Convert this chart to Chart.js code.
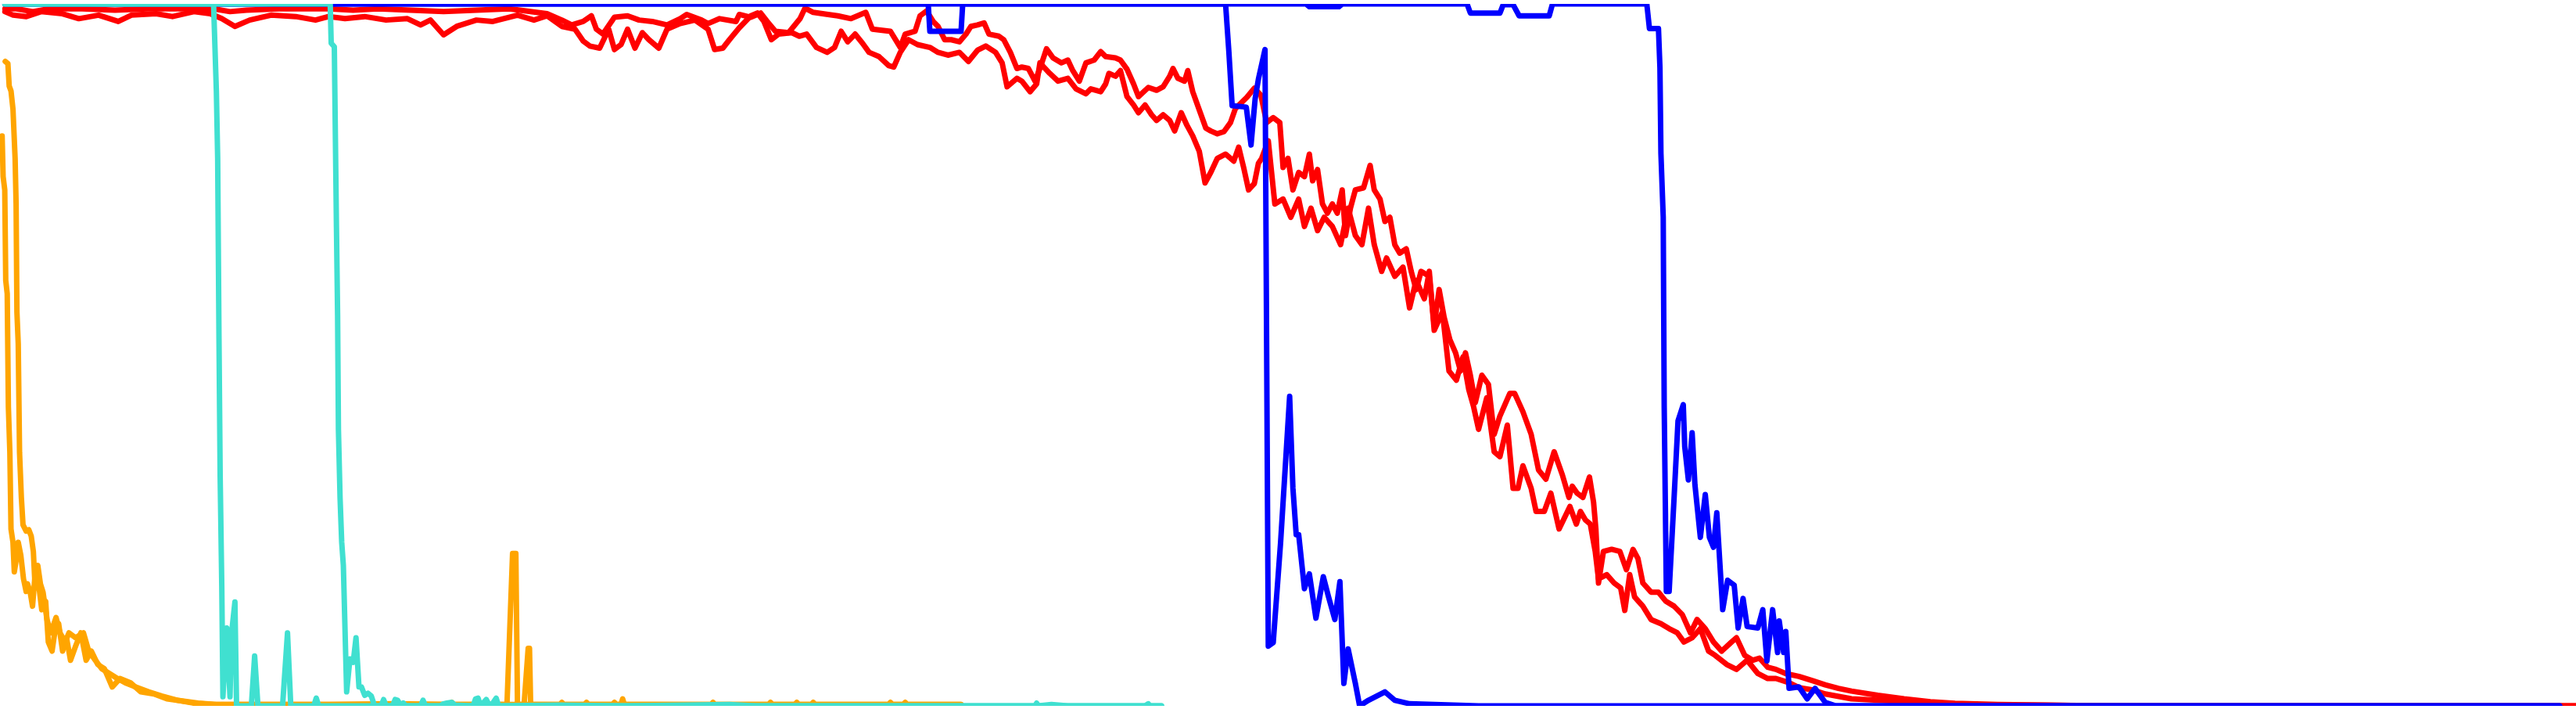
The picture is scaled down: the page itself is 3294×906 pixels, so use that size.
<!DOCTYPE html>
<html>
<head>
<meta charset="utf-8">
<script src="https://cdn.jsdelivr.net/npm/chart.js@4.4.1/dist/chart.umd.min.js"></script>
<style>
  html, body { margin: 0; padding: 0; background: #fff; }
  #chart { display: block; }
</style>
</head>
<body>
<canvas id="chart" width="3294" height="906"></canvas>
<script>
// x = training step, y = score (%)
const turqA = [[3,100],[130,100],[131.7,87.6],[132.5,78.0],[133.3,52.3],[134,32.9],[135,17.0],[135.7,1.3],[138,11.1],[140,1.3],[141,10.4],[143,14.8],[144,0],[153,0],[155,7.1],[157,0],[172,0],[175,10.4],[177,0],[191,0],[192.5,1.1],[194,0],[707,0]];

const turqB = [[3,100],[201,100],[201.6,94.4],[203.5,93.9],[204.8,68.2],[205.5,55.6],[206,39.4],[207,29.6],[208,23.3],[209,20.0],[211,2.0],[213,6.7],[215,6.2],[216.7,9.7],[218.5,2.7],[220,2.7],[222,1.5],[224,1.8],[226,1.4],[228,0],[232,0],[233.5,0.9],[235,0],[239,0],[240.5,0.9],[242,0.8],[244,0],[245.5,0.4],[247,0],[256,0],[257.5,0.8],[259,0],[268,0],[270,0.3],[272,0.4],[275,0.5],[277,0.1],[288,0],[289.5,1.0],[291,1.1],[292.5,0],[296,0.9],[298,0],[300,0.4],[302,1.1],[303.5,0],[340,0.1],[380,0],[444,0.2],[460,0],[630,0],[631,0.4],[632,0],[640,0.2],[650,0],[697,0],[699,0.3],[700,0],[707,0]];

const blueA = [[3,100],[795,100],[797,99.6],[815,99.6],[817,100],[893,100],[895,98.7],[913,98.7],[915,99.9],[921,99.9],[924.7,98.3],[943,98.3],[945,100],[1002.4,100],[1004,96.5],[1009.5,96.5],[1010.4,90.9],[1011,78.7],[1012.4,69.6],[1013,42.5],[1014.3,16.3],[1016,16.3],[1019,29.6],[1021.4,40.6],[1024.6,42.9],[1025.5,36.9],[1027.7,32.2],[1030,38.9],[1031.7,31.5],[1035,24.0],[1038,30.1],[1040.5,24.0],[1043,22.6],[1045,27.5],[1048.6,13.7],[1051.6,17.9],[1055.6,17.2],[1058,11.1],[1061,15.3],[1063.5,11.3],[1070,11.1],[1073,13.7],[1075.5,6.4],[1079,13.7],[1082,7.6],[1083,12.1],[1085.7,7.6],[1087,10.6],[1089,2.5],[1095,2.7],[1100,1.0],[1104.8,2.5],[1111,0.5],[1117.5,0],[1558,0]];

const blueB = [[3,100],[565,100],[566,96.1],[585,96.1],[586,100],[746,100],[748,93.2],[750,85.5],[758.6,85.3],[761.5,79.9],[764,86.5],[766,89.3],[770,93.5],[772,8.5],[775,9.0],[779.5,23.3],[785,44.1],[787,31.0],[789,24.4],[790.5,24.4],[794,16.7],[797,18.8],[801,12.5],[805.5,18.4],[808.6,15.6],[812.5,12.3],[815.6,17.7],[818,3.2],[820.6,8.1],[825,3.2],[827.6,0],[833,0.8],[843,2.0],[849,0.8],[858,0.3],[900,0],[1558,0]];

const orangeA = [[1.3,81.2],[1.9,75.4],[2.9,73.5],[3.5,60.6],[4.4,58.7],[5.1,42.6],[6,36.1],[6.7,25.2],[7.9,23.3],[8.7,19.1],[9.8,20.7],[11.1,23.3],[12.7,21.4],[14.3,18.1],[15.9,16.3],[16.7,17.4],[18.3,16.3],[19.8,14.2],[21.4,18.8],[23.8,16.8],[25.4,13.7],[27.8,14.9],[29.4,9.1],[31.7,7.8],[33.3,10.4],[35.7,11.7],[38.1,7.8],[40.5,9.7],[42.9,6.5],[46,8.5],[49.2,10.4],[52.4,6.5],[55.6,7.8],[59.5,5.9],[63.5,5.3],[68.3,2.7],[73,3.9],[79.4,3.3],[85.7,2.0],[93.7,1.7],[101.6,1.0],[111,0.7],[120.6,0.4],[131.7,0.2],[160,0.2],[200,0.2],[240,0.3],[274,0.2],[275,0.5],[276,0.2],[308.6,0.2],[312,21.7],[314,21.7],[315,0.2],[319,0.2],[321.5,8.2],[322.3,8.2],[323,0.2],[341,0.2],[342,0.5],[343,0.2],[356,0.2],[357,0.5],[358,0.2],[373,0.2],[374,0.5],[375,0.2],[378,0.2],[379,1.0],[380,0.2],[433,0.2],[434,0.5],[435,0.2],[468,0.2],[469,0.5],[470,0.2],[484,0.2],[485,0.5],[486,0.2],[494,0.2],[495,0.5],[496,0.2],[541,0.2],[542,0.5],[543,0.2],[550,0.2],[551,0.5],[552,0.2],[585,0.2]];

const orangeB = [[3.2,91.8],[4.8,91.5],[5.6,88.3],[6.7,87.6],[7.9,85.0],[9.2,78.0],[9.8,71.5],[10.3,56.1],[11.1,51.6],[11.9,36.1],[13,29.7],[14,25.8],[15.9,24.9],[17.5,25.1],[19,24.2],[20.3,22.0],[21.4,16.8],[23,20.0],[24.6,17.4],[26.2,16.2],[28.6,12.3],[31,10.4],[34.1,12.6],[36.5,10.4],[39.7,9.1],[42,10.4],[46,9.7],[50.8,10.4],[54,7.8],[58,6.5],[61.9,5.3],[66.7,4.6],[71.4,3.9],[76.2,3.3],[82.5,2.7],[90.5,2.0],[98.4,1.4],[108,0.8],[117.5,0.4],[130.2,0.2],[585,0.2]];

const redA = [[3,99.3],[10,99.3],[20,98.9],[30,99.3],[50,99.3],[70,99.1],[90,99.3],[110,99.3],[130,99.3],[140,98.9],[150,99.1],[170,99.3],[190,99.3],[200,99.3],[215,99.1],[230,99.3],[250,99.1],[270,98.9],[290,99.1],[310,99.3],
  [333,98.6],[342,97.7],[348,97.0],[355,97.5],[360,98.3],[363,96.4],[367,95.7],[374,98.1],[382,98.3],[389,97.7],[397,97.5],[406,97.0],[414,97.9],[418,98.5],[427,97.7],[431,97.2],[438,97.9],[448,97.5],[450,98.5],[457,98.1],[463,98.7],[467,97.5],[472,96.1],[480,95.9],[487,97.9],[490,99.4],[495,98.8],[504,98.5],[510,98.3],[518,97.9],[527,98.8],[531,96.4],[542,96.1],
  [548,93.8],[551,95.7],[557,96.1],[560,98.3],[564,99.0],[568,97.5],[571,96.8],[575,94.9],[579,94.9],[584,94.6],[588,95.7],[591,96.8],[595,97.0],[599,97.3],[602,95.7],[608,95.4],[611,94.9],[615,93.1],[619,90.8],[622,91.0],[626,90.8],[630,89.0],[633,90.8],[637,93.6],[641,92.3],[646,91.6],[650,92.0],[653,90.5],[657,89.0],[661,91.6],[666,92.0],[670,93.2],[673,92.5],[679,92.3],[682,92.0],[686,90.7],[690,88.6],[693,86.8],[699,88.1],[704,87.7],[708,88.2],[712,89.7],[714,90.8],[717,89.4],[721,89.0],[723,90.5],[726,87.5],[730,84.9],[734,82.3],[737,81.9],
  [741,81.5],[745,81.8],[749,83.1],[752,85.1],[759,86.7],[763.5,88.0],[767.5,87.0],[771,83.1],[775,83.8],[779,83.1],[781,76.7],[784,78.0],[787,73.5],[790.5,76.0],[794,75.4],[797,78.6],[799,74.8],[802,76.4],[805,71.5],[808,70.2],[811,71.5],[814,70.2],[817,73.5],[819,67.0],[822,70.9],[825,73.5],[830,73.8],[834,77.0],[836.5,73.5],[840,72.2],[843,69.0],[846,69.6],[849,65.7],[852,64.5],[856,65.1],[859,61.9],[862,59.3],[865,61.9],[870,61.2],[873,54.2],[876,59.3],[879,55.4],[882.5,52.2],[886,50.3],[889,47.7],[892,50.3],[895,47.1],[898,43.2],[902,47.1],[906,45.8],[909.5,38.7],[913,41.3],[919,44.5],[922,44.5],[927,41.9],[932,38.7],[936.5,33.6],[941,32.3],[946,36.2],[951,32.9],
  [955,29.7],[957,31.3],[960,30.3],[963.5,29.7],[967.5,32.6],[970,29.0],[971.4,25.2],[973,17.5],[976,22.0],[981,22.3],[986,22.0],[990,19.4],[994,22.3],[997,21.0],[1000,17.5],[1005,16.2],[1009.5,16.2],[1014,14.9],[1019,14.2],[1024,13.0],[1029,10.4],[1033,12.3],[1038,11.0],[1043,9.1],[1048,7.8],[1054,9.1],[1057,9.7],[1062,7.2],[1067,6.5],[1071,6.8],[1076,5.5],[1081,5.2],[1087,4.6],[1095,4.2],[1103,3.6],[1111,3.0],[1119,2.5],[1127,2.1],[1143,1.5],[1159,1.0],[1175,0.6],[1190,0.35],[1216,0.2],[1246,0.1],[1276,0],[1568,0]];

const redB = [[3,98.9],[8,98.4],[16,98.2],[25,98.9],[38,98.6],[48,97.9],[60,98.4],[72,97.5],[80,98.4],[95,98.6],[105,98.2],[118,98.9],[128,98.6],[135,97.9],[143,96.8],[152,97.7],[165,98.4],[180,98.2],[192,97.7],[200,98.2],[210,97.9],[222,98.2],[235,97.7],[248,97.9],[256,97.0],[262,97.7],[270,95.6],[278,96.8],[290,97.7],[300,97.5],[315,98.4],[325,97.7],
  [333,98.3],[342,96.8],[350,96.4],[355,94.7],[359,94.0],[365,93.7],[370.5,96.4],[374,93.5],[378,94.2],[382,96.4],[386.5,93.7],[391,95.9],[395,94.9],[401,93.7],[406,96.4],[414,97.2],[423,97.7],[431,96.4],[435,93.5],[440,93.7],[444,94.9],[450,96.6],[457,98.3],[461,98.7],[465,97.5],[469.5,94.9],[474,95.7],[482,95.9],[486.5,95.4],[491,95.7],[497,93.8],[503.5,93.1],[508,93.8],[512,96.1],[516,94.6],[520.5,95.7],[525,94.4],[529,93.1],[535,92.5],[541,91.2],[544,91.0],
  [548,93.1],[553,94.9],[558.5,94.2],[566,93.8],[571,93.1],[577,92.7],[584,93.1],[589.5,91.8],[595,93.4],[600,94.0],[606,93.1],[610,91.6],[613,88.2],[619,89.4],[622,89.0],[627,87.5],[631,88.6],[633,91.6],[639,90.1],[644,89.0],[650,89.4],[655,87.9],[661,87.2],[664,87.9],[670,87.5],[673,88.6],[675,90.1],[679,89.7],[682,90.5],[686,86.8],[690,85.6],[693,84.5],[697,85.6],[701,84.2],[704,83.4],[708,84.2],[712,83.4],[715,81.9],[719,84.5],[722.5,82.7],[726,81.2],[730,79.0],[733.5,74.5],[737,76.0],
  [741,78.0],[746,78.6],[751,77.6],[754,79.6],[757,76.7],[760,73.5],[763.5,74.4],[766,77.3],[768,78.0],[772,80.5],[776,71.5],[781,72.2],[785.7,69.6],[790.5,72.2],[794,68.3],[798,70.9],[802,67.7],[806,69.6],[811,68.3],[816,65.7],[820.6,70.9],[825,67.0],[829,65.7],[833,70.9],[836.5,65.7],[841,61.9],[844,63.8],[849,61.2],[854,62.5],[858,56.7],[862,60.6],[867,58.0],[870,61.9],[873,53.5],[878,56.1],[882,47.7],[886.5,46.4],[890.5,49.7],[894,45.1],[897,42.6],[900,39.4],[905,43.9],[909.5,36.2],[913,35.5],[917.5,40.0],[921,31.0],[924,31.0],[927,34.2],[932,31.0],[935,27.7],[940,27.7],[944,30.3],[949,25.2],
  [955.6,28.4],[959.5,25.9],[962,27.7],[965,26.5],[968,25.9],[971,22.0],[973,18.1],[978,18.7],[982.5,17.5],[986.5,16.8],[989,13.6],[992,18.7],[995,15.5],[1000,14.2],[1005,12.3],[1011,11.7],[1016,11.0],[1021,10.4],[1025,9.1],[1030,9.7],[1035,11.0],[1040,7.8],[1044,7.2],[1051,5.9],[1057,5.2],[1063.5,6.5],[1070,4.6],[1076,3.9],[1081,3.9],[1089,3.3],[1095,2.6],[1103,2.3],[1111,1.7],[1127,1.0],[1143,0.8],[1159,0.6],[1175,0.4],[1190,0.2],[1230,0.1],[1300,0],[1568,0]];

const series = [
  { name: 'turqA', data: turqA, color: 'turquoise' },
  { name: 'turqB', data: turqB, color: 'turquoise' },
  { name: 'blueA', data: blueA, color: 'blue' },
  { name: 'blueB', data: blueB, color: 'blue' },
  { name: 'orangeA', data: orangeA, color: 'orange' },
  { name: 'orangeB', data: orangeB, color: 'orange' },
  { name: 'redA', data: redA, color: 'red' },
  { name: 'redB', data: redB, color: 'red' }
];

function toPoints(arr){
  return arr.map(p => ({ x: p[0], y: p[1] }));
}

const datasets = series.map(s => ({
  label: s.name,
  data: toPoints(s.data),
  borderColor: s.color,
  backgroundColor: s.color,
  borderWidth: 7,
  borderJoinStyle: 'round',
  borderCapStyle: 'round',
  pointRadius: 0,
  tension: 0,
  fill: false
}));

const ctx = document.getElementById('chart').getContext('2d');
new Chart(ctx, {
  type: 'line',
  data: { datasets },
  options: {
    responsive: false,
    animation: false,
    devicePixelRatio: 1,
    layout: { padding: { top: 5, bottom: 4, left: 0, right: 0 } },
    plugins: { legend: { display: false }, tooltip: { enabled: false } },
    scales: {
      x: { type: 'linear', min: 0, max: 1568, display: false },
      y: { min: 0, max: 100, display: false }
    }
  }
});
</script>
</body>
</html>
